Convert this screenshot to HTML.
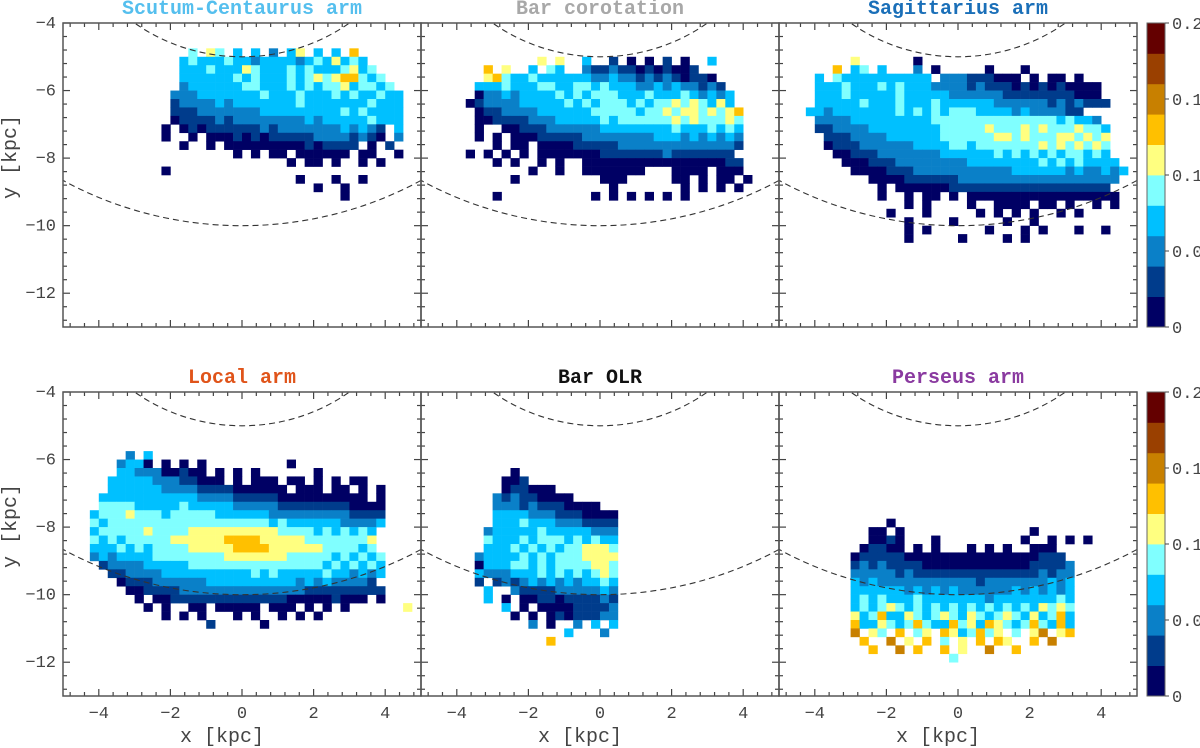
<!DOCTYPE html>
<html><head><meta charset="utf-8"><style>
html,body{margin:0;padding:0;background:#fff;}
svg{display:block;font-family:"Liberation Mono",monospace;}
</style></head><body>
<svg id="chart" width="1200" height="748" viewBox="0 0 1200 748" xmlns="http://www.w3.org/2000/svg"></svg>
<script>
// ---- data ----
const panelTitles = ["Scutum-Centaurus arm","Bar corotation","Sagittarius arm","Local arm","Bar OLR","Perseus arm"];
const titleColors = ["#55bfee","#a8a8a8","#1a6fb8","#e0541a","#111111","#8a3aa0"];
const xTicks = [-4,-2,0,2,4];
const yTicks = [-4,-6,-8,-10,-12];
const cbLabels = ["0.2","0.1","0.1","0.0","0"];
const levelColors = ["#000064","#003c8c","#0a80c8","#00c0ff","#80ffff","#ffff80","#ffc000","#c88000","#9a4000","#640000"];
const circleRadii = [5,10];
// grid rows: [row index, start col, levels] ; cell = 0.25 kpc, x from -5, y from -4 down
const gridScutum = [
[3,14,"4.54. 3.3.2 .35.3 .3.6"],[4,13,"34333 43323 33323 43534 3"],[5,13,"33343 33543 33434 33345 34"],
[6,13,"33333 34343 33434 54566 434"],[7,13,"23333 33443 33434 34453 4434"],[8,12,"22233 33333 43334 33343 43343 3"],
[9,12,"12222 32333 33334 33333 33433 3"],[10,12,"11122 22222 33333 33334 34333 3"],[11,12,"01111 21222 22222 32333 33433 3"],
[12,11,"0.010 11111 12122 22222 32321 .3"],[13,11,"0..0. 00010 10111 11222 21210 .2"],[14,13,"0..0. 00000 00001 01111 .0.1"],
[15,19,"0.0.0 0.000 000.0 0..0"],[16,25,"0.00. 0..0. 0"],[17,11,"0"],[18,26,"0...0 ..0"],[19,28,"0..0"],[20,31,"0"]];
const gridCorotation = [
[4,13,"5.5.. 3..1. 0.0.1 .0..3"],[5,7,"6.5.. 3.43. .2112 11010 1001"],[6,7,"56433 43333 33223 22121 21011 0"],
[7,6,"33343 33443 34434 33322 32322 121"],[8,6,"02232 33334 34344 43334 33343 2323"],[9,5,"01222 23333 34343 44434 34454 54353"],
[10,6,"01122 22333 33344 44434 45455 45456"],[11,6,"00111 12223 33334 34444 44545 44454"],[12,5,".0..0 01112 22222 33333 33343 33434 3"],
[13,6,"0.0.0 00111 11222 22222 33323 23232"],[14,6,"..0.0 0.000 01111 12222 22222 22221"],[15,5,"0.0.0 .0.00 00000 11111 11211 11111"],
[16,8,"0.0.. 0.0.. 00000 00000 00000 011"],[17,12,"0..0. .0000 000.. .0000 .000"],[18,10,"0.... ..... 000.. ...00 .0.00 .0"],
[19,21,"0.... ...0. 0.0.0"],[20,8,"0.... ..... .0.0. 0.0.0 .0"]];
const gridSagittarius = [
[4,8,"5.... ..0"],[5,6,"6.34. 3...2 .0... ..0.. .0"],[6,4,"3.433 33333 333.2 22111 000.0 .00.0"],
[7,4,"33343 33434 33322 22121 11010 10100 00"],[8,4,"33343 33334 33333 22222 21111 11110 00"],[9,4,"33333 43334 33343 33333 22222 21212 111"],
[10,3,"33233 33333 43434 34443 33323 22221 1"],[11,4,"22223 33333 33344 44444 44444 44343 32"],[12,4,"11222 23333 33334 44445 44454 54445 443"],
[13,5,"11122 22333 33344 44445 54544 45545 45"],[14,5,"01112 22222 33334 43444 44445 45454 54"],[15,6,"00111 22222 22333 33343 43434 34434 3"],
[16,7,"00011 12222 22223 33333 33434 34333 3"],[17,8,"00001 11222 22222 22233 33332 32232 3"],[18,10,"00001 11111 22222 22222 22222 222"],
[19,11,"0.000 00011 11111 11111 11111 1"],[20,11,"0..0. 00.0. 00000 00000 00000 00"],[21,14,"0.0.. ..0.. 0000. 00.0. .0.0"],
[22,12,"0...0 ..... 0.0.0 .0..0 .0"],[23,14,"0.... 0.... .0..0"],[24,14,"0.0.. ....0 ...0. 0...0 ..0"],[25,14,"0.... .0... .0.0"]];
const gridLocal = [
[7,7,"2.3"],[8,6,"2330. 0.0.0 ..... ....0"],[9,6,"33222 00100 .0.0. 0.... ..0"],[10,5,"33333 22211 000.0 .000. 00.0. 0.00"],
[11,5,"33333 32222 11110 00000 .000. 00.0.0"],[12,4,"33333 33333 32222 11111 00000 00000 .0"],[13,4,"44443 33334 33333 22222 11111 11100 00"],
[14,3,"34445 44434 44443 33333 22222 22221 111"],[15,3,"43444 44444 44444 44444 34333 33322 223"],[16,3,"34444 45444 45555 55555 54444 34343 43"],
[17,3,"43434 44445 55555 66665 55554 44444 45"],[18,3,"33343 43444 45555 56666 55555 54444 34"],[19,3,"23233 33444 44444 55555 55444 44343 434"],
[20,4,"12222 33333 44444 44444 44444 34343 43"],[21,5,"11222 23333 33333 34343 33334 33232 3"],[22,6,"01112 22222 33333 33333 23232 2221"],
[23,7,"00111 12222 22222 22222 11111 1111"],[24,8,"0.001 11111 11111 11000 00100 0.0"],[25,9,"0.0.. 00.00 000.0 00.0. 0.0.. ....5"],
[26,11,"0.0.0 ...0. 0..0. 0.0"],[27,16,"1.... .0"]];
const gridOLR = [
[9,10,"0"],[10,9,"001"],[11,9,"01100 0"],[12,8,"21211 0000"],[13,8,"22212 11100 00"],[14,8,"33332 22111 0000"],
[15,8,"33343 33222 1111"],[16,7,"23333 34333 33222"],[17,7,"43334 34443 43433"],[18,7,"33343 43434 45554"],
[19,6,"23333 43434 44555 5"],[20,6,"03334 43434 44455 4"],[21,6,"32223 33434 34345 4"],[22,6,"1.121 23232 32334 3"],
[23,7,"3..21 11122 22232"],[24,7,"3.0.0 01101 11121"],[25,9,"3.0.0 00011 112"],[26,10,"0.0.0 10111 22"],
[27,12,"2.0.. 2.3.3"],[28,16,"3...2"],[29,14,"6"]];
const gridPerseus = [
[15,12,"0"],[16,10,"00.0. ..... ..... ...0"],[17,10,"0010. ..0.. ..... ..0.. 0.0.0"],[18,9,"01100 .0.0. ..0.0 .0..0 00"],
[19,8,"01111 10000 00000 00000 0111."],[20,8,"12121 11100 00000 00000 11112"],[21,8,"22222 12111 11111 11111 12122"],
[22,8,"32322 22222 22221 22222 22323"],[23,8,"33333 32323 23222 22232 32323"],[24,8,"34343 33433 33333 23333 33343"],
[25,8,"34345 43434 34343 43434 35454"],[26,8,"53463 35434 54354 34543 53463"],[27,8,"63354 34643 36453 65434 64363"],
[28,8,"7.54. 6.45. 65346 45.4. 57.56"],[29,8,".6..7 .5.6. 4.5.6 .65.. 6.7.."],[30,8,"..6.. 7.6.. 6.5.. 7..6."],[31,8,"..... ..... .4..."]];
const grids = [gridScutum,gridCorotation,gridSagittarius,gridLocal,gridOLR,gridPerseus];

// ---- layout ----
const NS="http://www.w3.org/2000/svg";
const svg=document.getElementById('chart');
const lefts=[63,421,779], tops=[23,392], PW=358, PH=304;
function mk(tag,attrs,parent){const e=document.createElementNS(NS,tag);for(const k in attrs)e.setAttribute(k,attrs[k]);(parent||svg).appendChild(e);return e;}
function colorFor(v){const i=Math.min(9,Math.max(0,Math.floor(v/0.02)));return levelColors[i];}

for(let p=0;p<6;p++){
  const col=p%3,row=Math.floor(p/3);
  const L=lefts[col],T=tops[row];
  const xs=v=>L+(v+5)/10*PW;
  const ys=v=>T+(-4-v)/9*PH;
  const g=mk('g',{});
  
  
  const cp=mk('clipPath',{id:'clip'+p},g);
  mk('rect',{x:L,y:T,width:PW,height:PH},cp);
  const hm=mk('g',{'clip-path':'url(#clip'+p+')'},g);
  
  
  grids[p].forEach(function(rw){
    const r=rw[0],s=rw[1],str=rw[2].replace(/ /g,'');
    for(let i=0;i<str.length;i++){
      const ch=str[i]; if(ch==='.')continue;
      const c=s+i; if(c>39)continue;
      const val=(parseInt(ch)+0.5)*0.02;
      const x0=-5+0.25*c, y0=-4-0.25*r;
      const rc=mk('rect',{x:xs(x0).toFixed(2),y:ys(y0).toFixed(2),width:(xs(x0+0.25)-xs(x0)+0.3).toFixed(2),height:(ys(y0-0.25)-ys(y0)+0.3).toFixed(2),fill:colorFor(val)},hm);
      
      
    }
  });
  circleRadii.forEach(function(R){
    const el=mk('ellipse',{cx:xs(0),cy:ys(0),rx:xs(R)-xs(0),ry:ys(-R)-ys(0),fill:'none',stroke:'#333','stroke-width':1.1,'stroke-dasharray':'6,4','clip-path':'url(#clip'+p+')'},g);
    
    
  });
  const tk=mk('g',{stroke:'#444','stroke-width':1.2},g);
  
  
  for(let v=-4.8;v<=4.81;v+=0.4){
    const maj=Math.abs(v/2-Math.round(v/2))<0.01; const len=maj?7:4; const X=xs(v);
    mk('line',{x1:X,y1:T,x2:X,y2:T+len},tk); mk('line',{x1:X,y1:T+PH,x2:X,y2:T+PH-len},tk);
  }
  for(let v=-4;v>=-13.01;v-=0.4){
    const maj=Math.abs(v/2-Math.round(v/2))<0.01; const len=maj?7:4; const Y=ys(v);
    mk('line',{x1:L,y1:Y,x2:L+len,y2:Y},tk); mk('line',{x1:L+PW,y1:Y,x2:L+PW-len,y2:Y},tk);
  }
  const fr=mk('rect',{x:L,y:T,width:PW,height:PH,fill:'none',stroke:'#555','stroke-width':1.5},g);
  
  
  const tt=mk('text',{x:L+PW/2,y:T-9,'text-anchor':'middle','font-size':20,'font-weight':'bold',fill:titleColors[p]},g);
  tt.textContent=panelTitles[p];
  
  
  if(col===0){
    yTicks.forEach(function(v){
      const t=mk('text',{x:L-7,y:ys(v)+5,'text-anchor':'end','font-size':17,fill:'#444'},g);
      t.textContent=String(v).replace('-','\u2212');
      
      
    });
    const yl=mk('text',{x:0,y:0,'text-anchor':'middle','font-size':20,fill:'#444',transform:'translate(16,'+(T+PH/2-18)+') rotate(-90)'},g);
    yl.textContent='y [kpc]';
    
    
  }
  if(row===1){
    xTicks.forEach(function(v){
      const t=mk('text',{x:xs(v),y:T+PH+22,'text-anchor':'middle','font-size':17,fill:'#444'},g);
      t.textContent=String(v).replace('-','\u2212');
      
      
    });
    const xl=mk('text',{x:L+PW/2-20,y:T+PH+46,'text-anchor':'middle','font-size':20,fill:'#444'},g);
    xl.textContent='x [kpc]';
    
    
  }
}
for(let row=0;row<2;row++){
  const T=tops[row];
  const cb=mk('g',{});
  
  
  const bh=PH/10;
  for(let i=0;i<10;i++){
    mk('rect',{x:1147,y:T+PH-(i+1)*bh,width:18,height:bh+0.4,fill:levelColors[i]},cb);
  }
  mk('rect',{x:1147,y:T,width:18,height:PH,fill:'none',stroke:'#666','stroke-width':1},cb);
  cbLabels.forEach(function(lb,i){
    const Y=T+PH*i/4;
    mk('line',{x1:1165,y1:Y,x2:1169,y2:Y,stroke:'#444'},cb);
    const t=mk('text',{x:1172,y:Y+6,'font-size':17,fill:'#444'},cb);
    t.textContent=lb;
    
    
  });
}
</script>
</body></html>
